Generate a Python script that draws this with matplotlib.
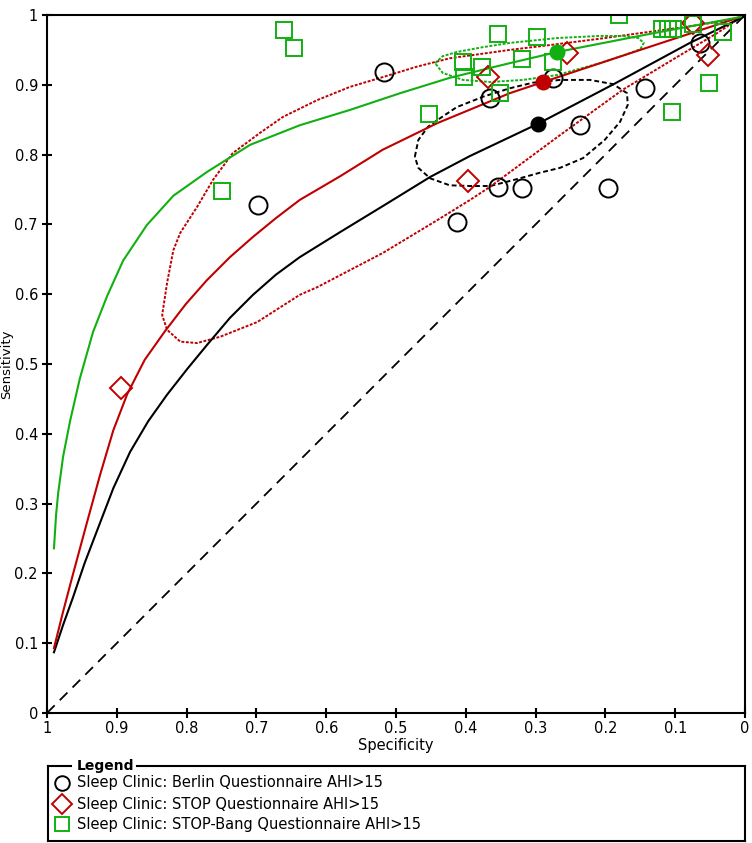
import matplotlib.pyplot as plt
from matplotlib.lines import Line2D

W, H = 752, 843
BLACK = "#000000"
RED = "#c00000"
GREEN = "#11b011"

# study points (specificity, sensitivity)
berlin_spec = [0.517, 0.698, 0.365, 0.275, 0.236, 0.143, 0.064, 0.354, 0.320, 0.196, 0.413]
berlin_sens = [0.918, 0.728, 0.881, 0.910, 0.842, 0.895, 0.960, 0.754, 0.752, 0.752, 0.703]

stop_spec = [0.894, 0.397, 0.368, 0.255, 0.074, 0.053]
stop_sens = [0.466, 0.762, 0.911, 0.946, 0.989, 0.943]

bang_spec = [0.660, 0.646, 0.354, 0.404, 0.403, 0.377, 0.351, 0.453, 0.298, 0.319,
             0.275, 0.181, 0.119, 0.110, 0.103, 0.075, 0.032, 0.052, 0.105, 0.749]
bang_sens = [0.978, 0.953, 0.973, 0.933, 0.911, 0.926, 0.888, 0.858, 0.968, 0.937,
             0.933, 1.000, 0.980, 0.980, 0.980, 0.987, 0.976, 0.903, 0.861, 0.748]

# summary points
summary_spec = {"berlin": 0.297, "stop": 0.289, "bang": 0.269}
summary_sens = {"berlin": 0.844, "stop": 0.904, "bang": 0.947}

# SROC curves
berlin_curve_spec = [0.990, 0.977, 0.963, 0.946, 0.928, 0.905, 0.881, 0.855, 0.828, 0.799, 0.771, 0.738,
                     0.705, 0.672, 0.638, 0.580, 0.516, 0.451, 0.394, 0.337, 0.297, 0.188, 0.079, 0.003]
berlin_curve_sens = [0.087, 0.126, 0.165, 0.215, 0.262, 0.322, 0.374, 0.418, 0.456, 0.493, 0.527, 0.566,
                     0.599, 0.628, 0.653, 0.689, 0.728, 0.768, 0.798, 0.825, 0.844, 0.901, 0.960, 0.997]

stop_curve_spec = [0.990, 0.977, 0.963, 0.943, 0.924, 0.905, 0.885, 0.860, 0.831, 0.801, 0.771, 0.738,
                   0.705, 0.672, 0.638, 0.580, 0.519, 0.441, 0.337, 0.289, 0.150, 0.007]
stop_curve_sens = [0.093, 0.145, 0.198, 0.272, 0.341, 0.405, 0.457, 0.506, 0.547, 0.586, 0.620, 0.653,
                   0.682, 0.709, 0.735, 0.769, 0.807, 0.845, 0.888, 0.904, 0.950, 0.997]

bang_curve_spec = [0.990, 0.987, 0.984, 0.977, 0.967, 0.953, 0.934, 0.914, 0.891, 0.857, 0.819, 0.771,
                   0.709, 0.638, 0.566, 0.494, 0.423, 0.337, 0.269, 0.136, 0.007]
bang_curve_sens = [0.236, 0.284, 0.315, 0.367, 0.418, 0.479, 0.546, 0.597, 0.648, 0.699, 0.741, 0.775,
                   0.814, 0.842, 0.864, 0.888, 0.910, 0.931, 0.947, 0.973, 0.997]

# confidence regions
berlin_ci_spec = [0.473, 0.468, 0.454, 0.437, 0.413, 0.375, 0.337, 0.304, 0.265, 0.222, 0.189, 0.169, 0.168,
                  0.179, 0.201, 0.232, 0.265, 0.294, 0.330, 0.365, 0.394, 0.423, 0.451, 0.468, 0.473]
berlin_ci_sens = [0.797, 0.821, 0.840, 0.852, 0.868, 0.883, 0.895, 0.903, 0.907, 0.907, 0.901, 0.888, 0.871,
                  0.847, 0.821, 0.795, 0.781, 0.774, 0.764, 0.755, 0.755, 0.756, 0.766, 0.781, 0.797]

stop_ci_spec = [0.007, 0.064, 0.136, 0.208, 0.279, 0.337, 0.423, 0.470, 0.519, 0.566, 0.613, 0.662, 0.695,
                0.734, 0.762, 0.785, 0.809, 0.819, 0.828, 0.835, 0.828, 0.809, 0.785, 0.752, 0.699, 0.638,
                0.613, 0.519, 0.441, 0.394, 0.365, 0.269, 0.175, 0.097, 0.040, 0.007]
stop_ci_sens = [0.996, 0.986, 0.976, 0.966, 0.957, 0.950, 0.938, 0.926, 0.911, 0.897, 0.878, 0.854, 0.831,
                0.802, 0.764, 0.725, 0.688, 0.663, 0.616, 0.570, 0.549, 0.532, 0.530, 0.539, 0.560, 0.599,
                0.610, 0.659, 0.706, 0.735, 0.754, 0.825, 0.893, 0.940, 0.974, 0.996]

bang_ci_spec = [0.444, 0.433, 0.413, 0.375, 0.337, 0.269, 0.208, 0.175, 0.153, 0.145, 0.150, 0.172, 0.208,
                0.269, 0.318, 0.365, 0.404, 0.433, 0.444]
bang_ci_sens = [0.931, 0.941, 0.947, 0.954, 0.960, 0.967, 0.970, 0.970, 0.967, 0.960, 0.951, 0.943, 0.931,
                0.914, 0.907, 0.904, 0.907, 0.917, 0.931]

tick_vals = [1, 0.9, 0.8, 0.7, 0.6, 0.5, 0.4, 0.3, 0.2, 0.1, 0]
tick_labels = ["1", "0.9", "0.8", "0.7", "0.6", "0.5", "0.4", "0.3", "0.2", "0.1", "0"]

legend_labels = ["Sleep Clinic: Berlin Questionnaire AHI>15",
                 "Sleep Clinic: STOP Questionnaire AHI>15",
                 "Sleep Clinic: STOP-Bang Questionnaire AHI>15"]

plt.rcParams['font.family'] = ['DejaVu Sans']

fig = plt.figure(figsize=(W / 100, H / 100), dpi=100)
ax = fig.add_axes([47 / W, 1 - 713 / H, 698 / W, 698 / H])
ax.set_xlim(1, 0)
ax.set_ylim(0, 1)

# chance line
ax.plot([1, 0], [0, 1], color=BLACK, lw=1.3, ls=(0, (6, 4)))

# confidence regions
ax.plot(berlin_ci_spec, berlin_ci_sens, color=BLACK, lw=1.4, ls=(0, (2.5, 1.5)))
ax.plot(stop_ci_spec, stop_ci_sens, color=RED, lw=1.4, ls=(0, (1.5, 0.8)))
ax.plot(bang_ci_spec, bang_ci_sens, color=GREEN, lw=1.4, ls=(0, (1.5, 0.8)))

# SROC curves
ax.plot(berlin_curve_spec, berlin_curve_sens, color=BLACK, lw=1.5)
ax.plot(stop_curve_spec, stop_curve_sens, color=RED, lw=1.5)
ax.plot(bang_curve_spec, bang_curve_sens, color=GREEN, lw=1.5)

# studies
ax.plot(berlin_spec, berlin_sens, ls='none', marker='o', ms=13, mfc='none', mec=BLACK, mew=1.4)
ax.plot(stop_spec, stop_sens, ls='none', marker='D', ms=11.5, mfc='none', mec=RED, mew=1.4)
ax.plot(bang_spec, bang_sens, ls='none', marker='s', ms=11.5, mfc='none', mec=GREEN, mew=1.4)

# summary points
for key, col in [("berlin", BLACK), ("stop", RED), ("bang", GREEN)]:
    ax.plot(summary_spec[key], summary_sens[key], marker='o', ms=10.5, color=col, ls='none')

for sp in ax.spines.values():
    sp.set_linewidth(1.5)
ax.set_xticks(tick_vals)
ax.set_xticklabels(tick_labels)
ax.set_yticks(tick_vals)
ax.set_yticklabels(tick_labels)
ax.tick_params(direction='inout', length=7, width=1.5, labelsize=10.5, pad=2)
ax.tick_params(axis='y', pad=3)
ax.set_xlabel("Specificity", fontsize=10.5, labelpad=2)


def fx(px):
    return px / W


def fy(py):
    return 1 - py / H


fig.text(fx(7), fy(364), "Sensitivity", fontsize=9.5, rotation=90, ha='center', va='center')

# legend box drawn by hand so the title sits in the frame
frame = [([48, 71], [766, 766]), ([137, 745], [766, 766]), ([745, 745], [766, 841]),
         ([48, 745], [841, 841]), ([48, 48], [766, 841])]
for xs, ys in frame:
    fig.add_artist(Line2D([fx(v) for v in xs], [fy(v) for v in ys], color=BLACK, lw=1.5,
                          transform=fig.transFigure))
fig.text(fx(77), fy(766), "Legend", fontsize=10, fontweight='bold', va='center', ha='left')

markers = [('o', BLACK, 10.5), ('D', RED, 10), ('s', GREEN, 10)]
rows = [783, 804, 824]
for (m, col, ms), lab, y in zip(markers, legend_labels, rows):
    fig.add_artist(Line2D([fx(62)], [fy(y)], marker=m, ms=ms, mfc='none', mec=col, mew=1.4,
                          ls='none', transform=fig.transFigure))
    fig.text(fx(77), fy(y), lab, fontsize=10.5, va='center', ha='left')

fig.savefig("out.png", dpi=100)
